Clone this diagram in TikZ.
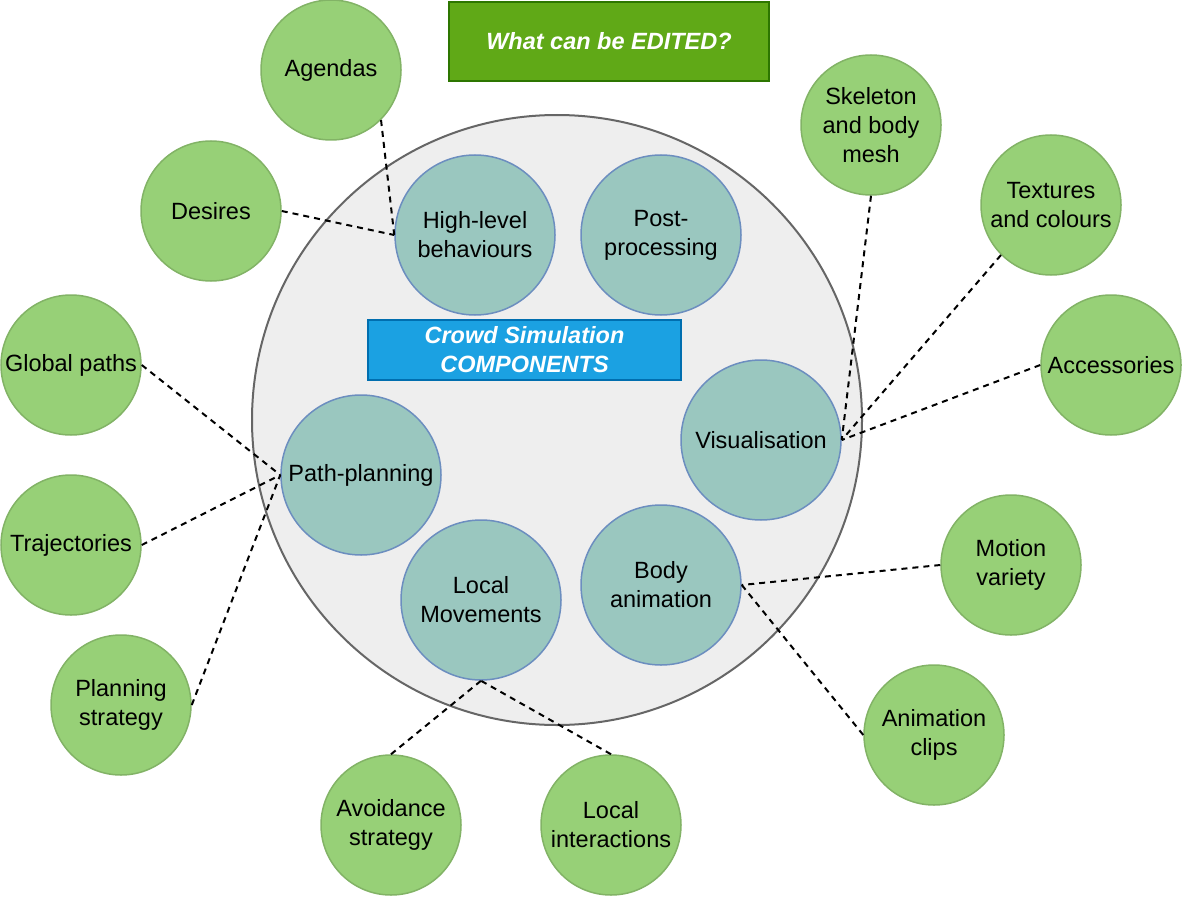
\documentclass[tikz,border=0pt]{standalone}
\usepackage{fontspec}
\setmainfont{Liberation Sans}
\definecolor{leafF}{HTML}{97D077}
\definecolor{leafD}{HTML}{82B366}
\definecolor{compF}{HTML}{9AC7BF}
\definecolor{compD}{HTML}{6C8EBF}
\definecolor{bigF}{HTML}{EEEEEE}
\definecolor{bigD}{HTML}{666666}
\definecolor{titF}{HTML}{60A917}
\definecolor{titD}{HTML}{2D7600}
\definecolor{blueF}{HTML}{1BA1E2}
\definecolor{blueD}{HTML}{006EAF}
\tikzset{
  txt/.style={font=\fontsize{23.5pt}{29pt}\selectfont, align=center, text=black},
  leaf/.style={circle, txt, fill=leafF, draw=leafD, line width=1.5pt, minimum size=140pt, inner sep=0pt},
  comp/.style={circle, txt, fill=compF, draw=compD, line width=1.5pt, minimum size=160pt, inner sep=0pt},
  banner/.style={rectangle, inner sep=0pt, line width=1.5pt, align=center, text=white,
    font=\fontsize{23.5pt}{29pt}\selectfont\bfseries\itshape},
  link/.style={draw=black, line width=2pt, dash pattern=on 6pt off 5pt},
}
\begin{document}
\begin{tikzpicture}[x=1pt, y=-1pt]
\useasboundingbox (0,0) rectangle (1182,896);
% big circle
\node[circle, fill=bigF, draw=bigD, line width=2pt, minimum size=610pt, inner sep=0pt] (big) at (557,420) {};
% banners
\node[banner, fill=titF, draw=titD, minimum width=320pt, minimum height=79pt] (title) at (609,41.5) {What can be EDITED?};
\node[banner, fill=blueF, draw=blueD, minimum width=313pt, minimum height=60pt] (crowd) at (524.5,350) {Crowd Simulation\\COMPONENTS};
% components
\node[comp] (hl) at (475,235) {High-level\\behaviours};
\node[comp] (post) at (661,235) {Post-\\processing};
\node[comp] (path) at (361,475) {Path-planning};
\node[comp] (vis) at (761,440) {Visualisation};
\node[comp] (body) at (661,585) {Body\\animation};
\node[comp] (local) at (481,600) {Local\\Movements};
% leaves
\node[leaf] (agendas) at (331,70) {Agendas};
\node[leaf] (desires) at (211,211) {Desires};
\node[leaf] (global) at (71,365) {Global paths};
\node[leaf] (traj) at (71,545) {Trajectories};
\node[leaf] (plan) at (121,705) {Planning\\strategy};
\node[leaf] (avoid) at (391,825) {Avoidance\\strategy};
\node[leaf] (inter) at (611,825) {Local\\interactions};
\node[leaf] (clips) at (934,735) {Animation\\clips};
\node[leaf] (motion) at (1011,565) {Motion\\variety};
\node[leaf] (acc) at (1111,365) {Accessories};
\node[leaf] (tex) at (1051,205) {Textures\\and colours};
\node[leaf] (skel) at (871,125) {Skeleton\\and body\\mesh};
% links
\draw[link] (agendas.-45) -- (hl.west);
\draw[link] (desires.east) -- (hl.west);
\draw[link] (global.east) -- (path.west);
\draw[link] (traj.east) -- (path.west);
\draw[link] (plan.east) -- (path.west);
\draw[link] (avoid.north) -- (local.south);
\draw[link] (inter.north) -- (local.south);
\draw[link] (clips.west) -- (body.east);
\draw[link] (motion.west) -- (body.east);
\draw[link] (acc.west) -- (vis.east);
\draw[link] (tex.-135) -- (vis.east);
\draw[link] (skel.south) -- (vis.east);
\end{tikzpicture}
\end{document}
